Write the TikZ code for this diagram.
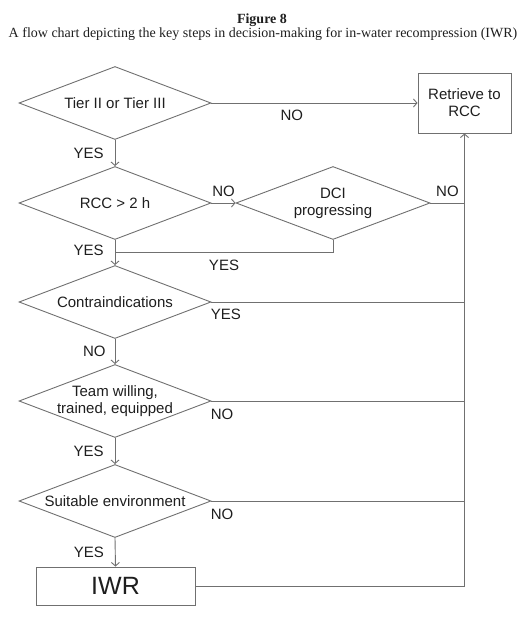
\documentclass[tikz,border=0pt]{standalone}
\usepackage{fontspec}
\setmainfont{Liberation Serif}
\newfontfamily\chartfont{Liberation Sans}
\usetikzlibrary{arrows.meta, positioning, shapes.geometric}
\definecolor{lngray}{HTML}{707070}
\definecolor{txtdark}{HTML}{1E1E1E}

\begin{document}
\begin{tikzpicture}[x=1pt, y=-1pt, >={Straight Barb[length=3.5pt, width=8pt]}, line width=0.9pt,
  decision/.style={diamond, draw=lngray, aspect=2.63, minimum width=192pt, minimum height=73pt,
    inner xsep=-10pt, inner ysep=-4pt, align=center, text=txtdark},
  endbox/.style={rectangle, draw=lngray, align=center, text=txtdark},
  flow/.style={lngray, ->},
  joint/.style={lngray},
  answer/.style={text=txtdark, inner sep=2pt},
  downlabel/.style={answer, anchor=east, xshift=-9pt},
  sidelabel/.style={answer, anchor=north west, pos=0, xshift=-3pt, yshift=-6pt}]

\chartfont\fontsize{15}{17}\selectfont

% Frame
\useasboundingbox (0,0) rectangle (523,632);

% Title
\node[text=txtdark, font=\rmfamily\bfseries\fontsize{14}{16}\selectfont] (title) at (262,20) {Figure 8};
\node[text=txtdark, font=\rmfamily\fontsize{14}{16}\selectfont] (caption) at (263,34)
  {A flow chart depicting the key steps in decision-making for in-water recompression (IWR)};

% Decisions
\node[decision] (tier) at (115,103) {Tier II or Tier III};
\node[decision] (rcctime) at (115,203) {RCC \textgreater{} 2 h};
\node[decision, minimum width=194pt] (dci) at (333,203) {DCI\\progressing};
\node[decision] (contra) at (115,302) {Contraindications};
\node[decision] (team) at (115,401) {Team willing,\\trained, equipped};
\node[decision] (envir) at (115,501) {Suitable environment};

% Outcomes
\node[endbox, minimum width=93pt, minimum height=60pt] (retrieve) at (464.5,103) {Retrieve to\\RCC};
\node[endbox, minimum width=159pt, minimum height=38pt, font=\fontsize{25}{28}\selectfont] (iwr) at (115.5,586) {IWR};

% Main line
\draw[flow] (tier.south) -- node[downlabel] (yes1) {YES} (rcctime.north);
\draw[flow] (rcctime.south) -- node[downlabel, pos=0.42] (yes2) {YES} (contra.north);
\draw[flow] (contra.south) -- node[downlabel, xshift=2pt] (no3) {NO} (team.north);
\draw[flow] (team.south) -- node[downlabel] (yes4) {YES} (envir.north);
\draw[flow] (envir.south) -- node[downlabel] (yes5) {YES} (iwr.north);

% Side branches
\draw[flow] (tier.east) -- node[answer, anchor=north, pos=0.39, yshift=-5pt] (no1) {NO} (retrieve.west);
\draw[flow] (rcctime.east) -- node[answer, anchor=south, yshift=4pt] (no2) {NO} (dci.west);
\draw[joint] (dci.east) -- node[answer, anchor=south, yshift=4pt] (nodci) {NO} (dci.east -| retrieve.south);
\draw[joint] (dci.south) -- ++(0,12) coordinate (dcijoin) -- node[answer, anchor=north, yshift=-6pt] (yesdci) {YES} (dcijoin -| rcctime.south);
\draw[joint] (contra.east) -- node[sidelabel, yshift=1pt] (yes3) {YES} (contra.east -| retrieve.south);
\draw[joint] (team.east) -- node[sidelabel] (no4) {NO} (team.east -| retrieve.south);
\draw[joint] (envir.east) -- node[sidelabel] (no5) {NO} (envir.east -| retrieve.south);
\draw[flow] (iwr.east) -| (retrieve.south);

\end{tikzpicture}
\end{document}
